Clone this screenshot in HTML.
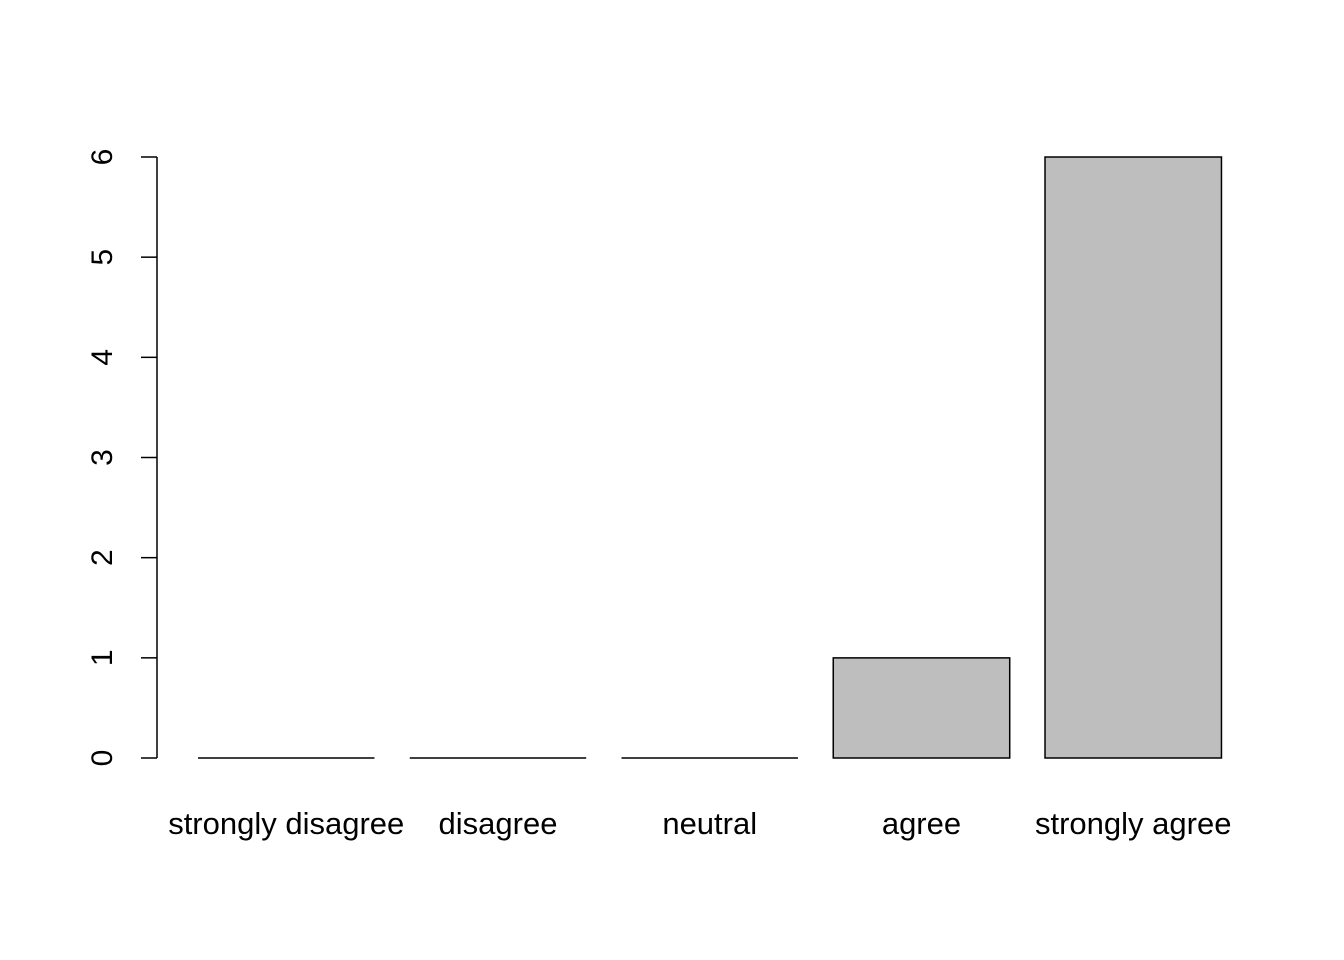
<!DOCTYPE html>
<html><head><meta charset="utf-8"><style>
html,body{margin:0;padding:0;background:#fff;}
svg{display:block;font-family:"Liberation Sans",Arial,sans-serif;}
</style></head><body>
<svg id="chart" width="1344" height="960" viewBox="0 0 1344 960">
<g id="axis"></g>
<g id="bars"></g>
<g id="xlabels"></g>
</svg>
<script>
const categories = ["strongly disagree","disagree","neutral","agree","strongly agree"];
const counts = [0,0,0,1,6];
const yTicks = [0,1,2,3,4,5,6];

const NS="http://www.w3.org/2000/svg";
const y0px=758, yUnit=(758-157)/6;
const yScale=v=>y0px-v*yUnit;
const unit=176.46, xOrigin=198-0.2*unit;
const xScale=u=>xOrigin+u*unit;
function mk(tag,attrs,parent){const e=document.createElementNS(NS,tag);for(const k in attrs)e.setAttribute(k,attrs[k]);parent.appendChild(e);return e;}

const axis=document.getElementById('axis');
const ymax=Math.max(...yTicks);
const ln=mk('line',{x1:157,x2:157,y1:yScale(0),y2:yScale(ymax),stroke:'#000','stroke-width':1.5},axis);


yTicks.forEach(t=>{
  const tk=mk('line',{x1:141,x2:157,y1:yScale(t),y2:yScale(t),stroke:'#000','stroke-width':1.5},axis);
  
  
  const tx=mk('text',{x:0,y:0,'font-size':30,'text-anchor':'middle',transform:`translate(112,${yScale(t)}) rotate(-90)`},axis);
  tx.textContent=t;
  
  
});

const bars=document.getElementById('bars');
const xl=document.getElementById('xlabels');
categories.forEach((c,i)=>{
  const left=xScale(0.2+1.2*i), w=unit;
  const top=yScale(counts[i]), bot=yScale(0);
  const r=mk('path',{d:`M${left},${bot}L${left},${top}L${left+w},${top}L${left+w},${bot}Z`,fill:'#bebebe',stroke:'#000','stroke-width':1.5},bars);
  
  
  const t=mk('text',{x:left+w/2,y:834,'font-size':31,'text-anchor':'middle'},xl);
  t.textContent=c;
  
  
});
</script>
</body></html>
